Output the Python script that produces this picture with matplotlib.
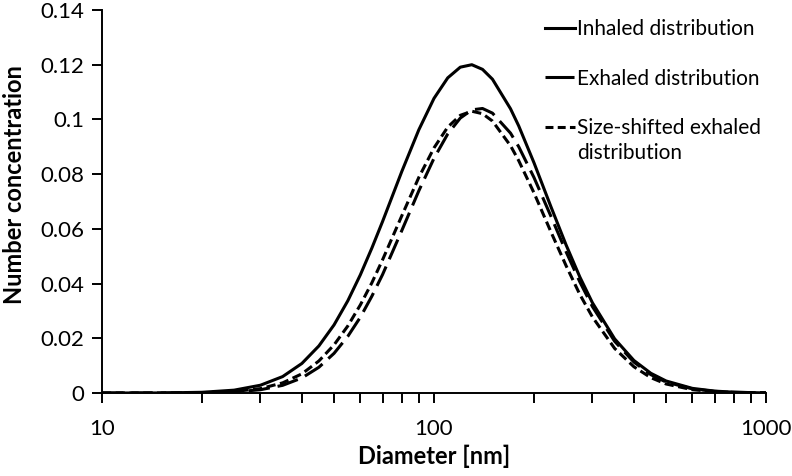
import matplotlib

matplotlib.use("Agg")
import matplotlib.pyplot as plt
from matplotlib.lines import Line2D
from matplotlib.ticker import FixedLocator, LogLocator, NullFormatter

plt.rcParams["font.family"] = ["Lato", "DejaVu Sans"]

# diameters [nm] and number concentrations
diameter = [10, 15, 20, 25, 30, 35, 40, 45, 50, 55, 60, 65, 70, 80, 90, 100, 110,
            120, 130, 140, 150, 170, 180, 200, 225, 250, 275, 300, 350, 400,
            450, 500, 600, 700, 800, 1000]
inhaled = [0.0, 0.00002, 0.00026, 0.00104, 0.00284, 0.0060, 0.0108, 0.0172,
           0.0249, 0.0337, 0.0432, 0.0530, 0.0627, 0.0810, 0.0962, 0.1077,
           0.1152, 0.1191, 0.1200, 0.1183, 0.1147, 0.1039, 0.0976, 0.0842,
           0.0681, 0.0541, 0.0424, 0.0330, 0.0198, 0.0119, 0.0072, 0.0044,
           0.0017, 0.0007, 0.0003, 0.00002]
exhaled = [0.0, 0.0, 0.00008, 0.00038, 0.00119, 0.0028, 0.0055, 0.0094, 0.0145,
           0.0207, 0.0277, 0.0354, 0.0433, 0.0594, 0.0739, 0.0858, 0.0947,
           0.1005, 0.1035, 0.1040, 0.1023, 0.0950, 0.0900, 0.0788, 0.0646,
           0.0516, 0.0406, 0.0316, 0.0189, 0.0113, 0.0067, 0.0040, 0.0015,
           0.0006, 0.00025, 0.00005]
shifted = [0.0, 0.0, 0.00012, 0.00055, 0.0016, 0.0037, 0.0070, 0.0117, 0.0176,
           0.0245, 0.0322, 0.0403, 0.0487, 0.0648, 0.0788, 0.0896, 0.0972,
           0.1015, 0.1030, 0.1021, 0.0994, 0.0904, 0.0849, 0.0732, 0.0589,
           0.0465, 0.0360, 0.0278, 0.0163, 0.0096, 0.0056, 0.0033, 0.0012,
           0.0005, 0.0002, 0.00004]

y_ticks = [0, 0.02, 0.04, 0.06, 0.08, 0.1, 0.12, 0.14]
y_labels = ["0", "0.02", "0.04", "0.06", "0.08", "0.1", "0.12", "0.14"]

W, H = 792, 476
fig = plt.figure(figsize=(W / 100, H / 100), dpi=100)
ax = fig.add_axes([102 / W, 1 - 393 / H, 664 / W, 383 / H])

LW = 2.2
LONG = (7.0, 2.6)
SHORT = (3.0, 1.5)
ax.plot(diameter, inhaled, color="black", lw=LW)
ax.plot(diameter, exhaled, color="black", lw=LW, dashes=LONG)
ax.plot(diameter, shifted, color="black", lw=LW, dashes=SHORT)

ax.set_xscale("log")
ax.set_xlim(10, 1000)
ax.set_ylim(0, 0.14)
ax.xaxis.set_major_locator(FixedLocator([10, 100, 1000]))
ax.set_xticklabels(["10", "100", "1000"])
ax.xaxis.set_minor_locator(LogLocator(base=10, subs=range(2, 10)))
ax.xaxis.set_minor_formatter(NullFormatter())
ax.set_yticks(y_ticks)
ax.set_yticklabels(y_labels)

for side in ("top", "right"):
    ax.spines[side].set_visible(False)
for side in ("left", "bottom"):
    ax.spines[side].set_linewidth(1.4)
ax.tick_params(axis="both", which="major", direction="out", length=7, width=1.4,
               labelsize=16, pad=6)
ax.tick_params(axis="x", which="minor", direction="out", length=7, width=1.4)
ax.tick_params(axis="x", which="major", pad=12)

ax.set_xlabel("Diameter [nm]", fontsize=17, fontweight="bold", labelpad=4)
ax.set_ylabel("Number concentration", fontsize=17, fontweight="bold")
# anchor is the label's right edge (rotated text)
ax.yaxis.set_label_coords(-76 / 664, 0.543)

# legend: handles start at x=545 px, first row centred at y=28 px
handles = [
    Line2D([], [], color="black", lw=LW),
    Line2D([], [], color="black", lw=LW, dashes=(9.5, 3)),
    Line2D([], [], color="black", lw=LW, dashes=(2.6, 1.4)),
]
labels = ["Inhaled distribution", "Exhaled distribution", "Size-shifted exhaled"]
fig.legend(handles, labels, loc="upper left", bbox_to_anchor=(545 / W, 1 - 19 / H),
           frameon=False, fontsize=15, handlelength=1.44, handletextpad=0.1,
           borderpad=0, borderaxespad=0, labelspacing=1.42)
fig.text(577 / W, 1 - 153 / H, "distribution", fontsize=15, va="center", ha="left")

fig.savefig("out.png", dpi=100)
